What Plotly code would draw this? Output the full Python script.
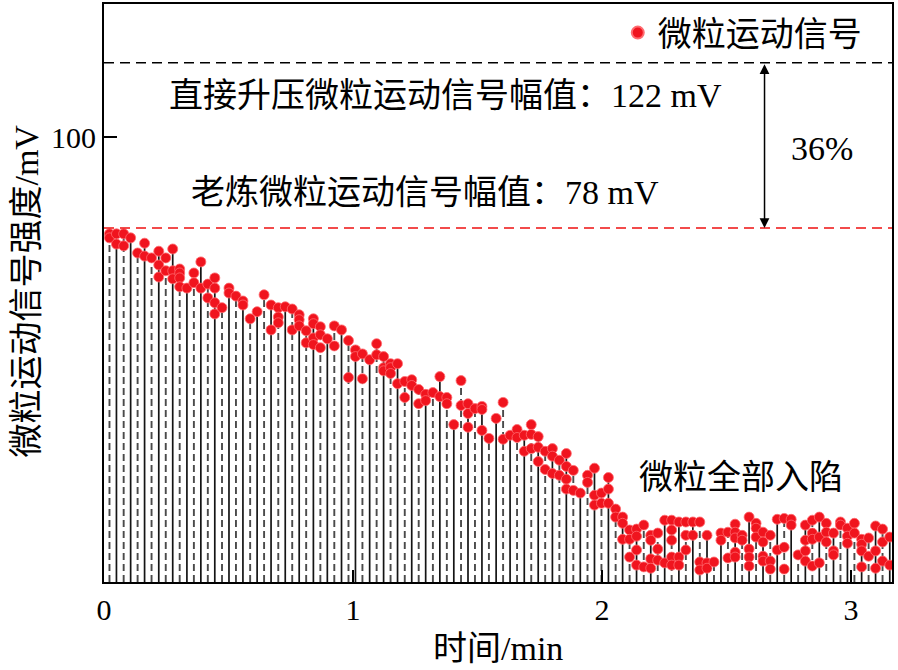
import plotly.graph_objects as go

# ---------------- data ----------------
stem_x = [0.022, 0.050, 0.079, 0.107, 0.135, 0.163, 0.191, 0.220, 0.248, 0.276,
          0.304, 0.333, 0.361, 0.389, 0.417, 0.445, 0.474, 0.502, 0.530, 0.558,
          0.587, 0.615, 0.643, 0.671, 0.700, 0.728, 0.756, 0.784, 0.812, 0.841,
          0.869, 0.897, 0.925, 0.954, 0.982, 1.010, 1.038, 1.067, 1.095, 1.123,
          1.151, 1.179, 1.208, 1.236, 1.264, 1.292, 1.321, 1.349, 1.377, 1.405,
          1.434, 1.462, 1.490, 1.518, 1.546, 1.575, 1.603, 1.631, 1.659, 1.688,
          1.716, 1.744, 1.772, 1.801, 1.829, 1.857, 1.885, 1.913, 1.942, 1.970,
          1.998, 2.026, 2.055, 2.083, 2.111, 2.139, 2.168, 2.196, 2.224, 2.252,
          2.280, 2.309, 2.337, 2.365, 2.393, 2.422, 2.450, 2.478, 2.506, 2.535,
          2.563, 2.591, 2.619, 2.647, 2.676, 2.704, 2.732, 2.760, 2.788, 2.817,
          2.845, 2.873, 2.901, 2.930, 2.958, 2.986, 3.014, 3.043, 3.071, 3.099,
          3.127, 3.156]

stem_vals = [
    [78.3, 77.4], [78.3, 76.0], [78.3, 75.6], [77.4], [74.0],
    [76.2, 73.3], [72.9], [74.4, 71.3, 68.6], [72.9, 70.0], [74.9, 70.0, 68.2],
    [70.4, 69.5, 68.4, 66.4], [66.1], [69.5, 67.3], [72.0, 66.1], [67.0, 63.9],
    [68.4, 66.1, 62.8, 60.3], [61.7], [66.1, 65.0], [64.3], [63.2, 62.3],
    [59.2], [60.8], [64.6], [62.3, 56.7], [61.7, 59.6, 58.3],
    [61.9], [61.4, 56.7], [60.1, 59.0, 57.6], [56.5, 53.8], [59.2, 58.1, 54.9, 53.4],
    [57.4, 55.6, 52.7], [54.7], [57.6, 53.1], [56.7], [54.3, 46.0],
    [52.2, 50.7], [51.3, 45.7], [50.0], [53.6, 51.1], [50.7, 48.2, 47.5],
    [49.1, 48.2, 46.9], [49.1, 44.6], [45.1, 41.5], [45.5, 44.2], [43.3, 40.1],
    [42.2, 40.8], [42.6], [46.2, 41.7], [41.5, 40.1], [35.4],
    [45.3, 39.7], [40.1, 37.9, 34.8], [39.0], [39.5, 38.8, 34.1], [32.3],
    [36.8], [40.4, 32.1], [33.0], [34.3, 32.5], [33.0, 29.4],
    [35.4, 33.2, 30.0], [32.7, 30.3, 27.1], [29.4, 25.3], [30.0, 28.3, 24.4], [27.4, 24.0],
    [28.9, 26.0, 23.1, 20.9], [25.1, 20.6], [20.0], [24.0, 22.4], [25.6, 19.5, 17.3],
    [20.0, 17.7], [23.5, 20.9, 17.7], [16.4, 14.6], [14.6, 13.2, 9.6], [11.7, 9.6, 5.6],
    [11.9, 10.3, 7.2, 3.8], [12.8, 3.4], [10.5, 9.4, 5.2, 3.1], [11.0, 7.4, 4.9], [13.9, 4.3],
    [13.9, 11.7, 9.4, 5.6, 3.8], [13.5, 5.6, 3.8], [13.5, 10.5, 7.2], [13.5, 10.5], [13.5, 4.5, 2.7],
    [10.5, 4.3, 3.1], [4.5], [11.0, 9.4], [11.2, 5.4], [13.0, 11.2, 9.9, 6.7, 5.6],
    [10.5, 9.4], [14.6, 7.4, 5.6, 3.6], [13.2, 12.1, 10.1], [11.2, 9.0, 5.8, 4.7], [10.5, 4.7, 2.9],
    [14.1, 7.2], [14.3, 7.8, 2.9], [14.1, 12.8], [6.1], [12.8, 9.4, 7.0, 4.7],
    [13.9, 11.0, 9.6, 3.6], [14.6, 10.1, 4.3], [13.2, 11.2, 9.0], [11.0, 7.0, 6.1], [13.5, 12.8],
    [12.1, 10.3, 8.7], [13.2, 11.0], [9.6, 8.5, 7.0, 3.4], [9.9, 5.8], [12.6, 7.0, 3.1],
    [11.9, 9.0, 4.7], [10.1, 3.8],
]

direct_level = 116.8     # 直接升压 reference line (as drawn)
aged_level = 79.6        # 老炼 reference line (as drawn)
arrow_x = 2.653

x_ticks = [0, 1, 2, 3]
y_ticks = [100]

series_name = "微粒运动信号"
text_direct = "直接升压微粒运动信号幅值：122 mV"
text_aged = "老炼微粒运动信号幅值：78 mV"
text_pct = "36%"
text_trap = "微粒全部入陷"
x_title = "时间/min"
y_title = "微粒运动信号强度/mV"

# ---------------- build ----------------
FONT = "Liberation Serif, 'Times New Roman', 'Noto Sans CJK SC', serif"

solid_x, solid_y, dash_x, dash_y = [], [], [], []
pts_x, pts_y = [], []
for i, (sx, vals) in enumerate(zip(stem_x, stem_vals)):
    top = max(vals)
    if i % 2 == 0:
        dash_x += [sx, sx, None]
        dash_y += [0, top, None]
    else:
        solid_x += [sx, sx, None]
        solid_y += [0, top, None]
    for v in vals:
        pts_x.append(sx)
        pts_y.append(v)

fig = go.Figure()
fig.add_trace(go.Scatter(x=dash_x, y=dash_y, mode="lines",
                         line=dict(color="#4a4a4a", width=1.9, dash="7px,4px"),
                         showlegend=False, hoverinfo="skip"))
fig.add_trace(go.Scatter(x=solid_x, y=solid_y, mode="lines",
                         line=dict(color="#141414", width=1.7),
                         showlegend=False, hoverinfo="skip"))
fig.add_trace(go.Scatter(x=pts_x, y=pts_y, mode="markers", name=series_name,
                         marker=dict(color="#f0141e", size=10,
                                     line=dict(width=0.8, color="#ff6b70"))))

x_max = 3.165
y_max = 130.0

fig.add_shape(type="line", x0=0, x1=x_max, y0=direct_level, y1=direct_level,
              line=dict(color="black", width=1.5, dash="10px,6px"))
fig.add_shape(type="line", x0=0, x1=x_max, y0=aged_level, y1=aged_level,
              line=dict(color="#ee1111", width=1.5, dash="10px,6px"))

fig.add_annotation(x=arrow_x, y=aged_level, ax=arrow_x, ay=direct_level,
                   xref="x", yref="y", axref="x", ayref="y", text="",
                   showarrow=True, arrowhead=2, startarrowhead=2,
                   arrowside="end+start", arrowsize=1.3, startarrowsize=1.3,
                   arrowwidth=1.5, arrowcolor="black")

fs = 34
fig.add_annotation(x=0.255, y=109.4, text=text_direct, showarrow=False,
                   xanchor="left", yanchor="middle", font=dict(size=fs, color="black"))
fig.add_annotation(x=0.343, y=87.6, text=text_aged, showarrow=False,
                   xanchor="left", yanchor="middle", font=dict(size=fs, color="black"))
fig.add_annotation(x=2.882, y=97.4, text=text_pct, showarrow=False,
                   xanchor="center", yanchor="middle", font=dict(size=fs, color="black"))
fig.add_annotation(x=2.140, y=23.6, text=text_trap, showarrow=False,
                   xanchor="left", yanchor="middle", font=dict(size=fs, color="black"))

fig.add_annotation(x=1.584, y=-0.150, xref="x", yref="paper", text=x_title,
                   showarrow=False, xanchor="center", yanchor="bottom",
                   font=dict(size=fs, color="black"))
fig.add_annotation(x=-0.098, y=65.5, xref="paper", yref="y", text=y_title,
                   textangle=-90, showarrow=False, xanchor="center", yanchor="middle",
                   font=dict(size=fs, color="black"))

fig.update_layout(
    width=898, height=670,
    margin=dict(l=104, r=6, t=2, b=88),
    paper_bgcolor="white", plot_bgcolor="white",
    font=dict(family=FONT, color="black", size=30),
    showlegend=True,
    legend=dict(x=0.968, y=1.0, xanchor="right", yanchor="top",
                bgcolor="rgba(0,0,0,0)", font=dict(size=fs),
                itemsizing="constant", tracegroupgap=0),
    xaxis=dict(range=[0, x_max], tickvals=x_ticks, ticks="inside", ticklen=12,
               tickwidth=1.5, tickcolor="black", showline=True, linecolor="black",
               linewidth=2, mirror=True, showgrid=False, zeroline=False,
               tickfont=dict(size=30), ticklabelstandoff=0),
    yaxis=dict(range=[0, y_max], tickvals=y_ticks, ticks="inside", ticklen=13,
               tickwidth=1.5, tickcolor="black", showline=True, linecolor="black",
               linewidth=2, mirror=True, showgrid=False, zeroline=False,
               tickfont=dict(size=30), ticklabelstandoff=0),
)

fig.write_html("out.html")
